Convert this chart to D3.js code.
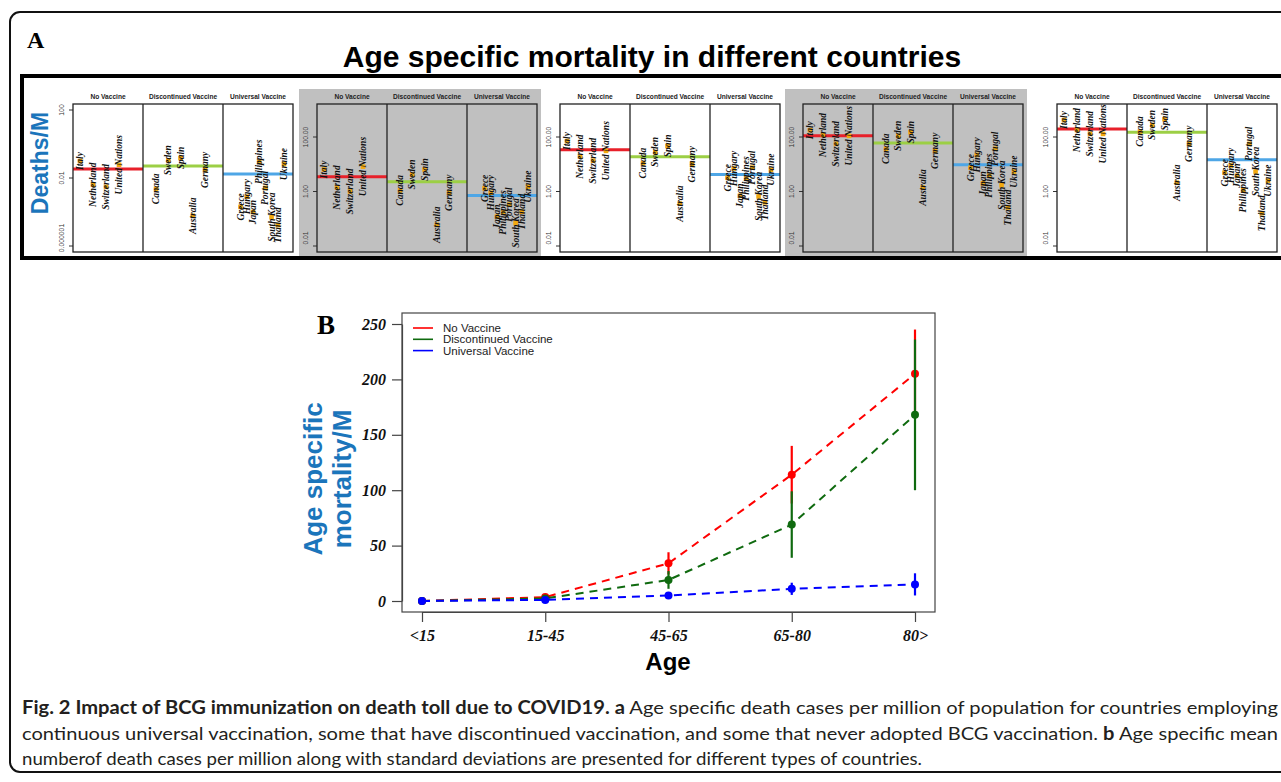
<!DOCTYPE html>
<html>
<head>
<meta charset="utf-8">
<script src="https://cdn.jsdelivr.net/npm/d3@7"></script>
<style>
  body { margin: 0; background: #fff; }
  svg { display: block; }
</style>
</head>
<body>
<div id="chart"></div>
<script>
// ---- data ----
const ageGroups = ["<15", "15-45", "45-65", "65-80", "80>"];
const vaccineGroups = ["No Vaccine", "Discontinued Vaccine", "Universal Vaccine"];

const noVaccineCountries = ["Italy", "Netherland", "Switzerland", "United Nations"];
const discontinuedCountries = ["Canada", "Sweden", "Spain", "Australia", "Germany"];
const universalCountries = ["Greece", "Hungary", "Japan", "Philippines", "Portugal", "South Korea", "Thailand", "Ukraine"];

// deaths per million, one row per country, one value per age group
const noVaccineDeaths = [
  [0.1, 6.4, 71, 178, 420],
  [0.004, 1.4, 19, 118, 180],
  [0.003, 1.0, 13.5, 56, 130],
  [0.06, 8.2, 31, 110, 130]
];
const discontinuedDeaths = [
  [0.0023, 1.1, 11, 37, 160],
  [0.11, 4.2, 28, 110, 275],
  [0.15, 6.4, 47, 150, 450],
  [0.00006, 0.06, 0.36, 1.4, 2.1],
  [0.03, 0.9, 10, 31, 56]
];
const universalDeaths = [
  [0.0002, 1.3, 3.2, 7.5, 4.9],
  [0.0008, 0.9, 7, 22, 9],
  [0.0001, 0.12, 0.7, 2, 3.8],
  [0.09, 0.17, 3, 3.8, 1.1],
  [0.0026, 0.33, 7.5, 37, 56],
  [0.00005, 0.07, 0.66, 1.7, 5.4],
  [0.000017, 0.18, 0.4, 0.26, 0.16],
  [0.066, 1.5, 6.3, 5.4, 2.5]
];

// group means drawn as horizontal lines in panel A
const noVaccineMeanA = [0.034, 3.5, 34, 112, 195];
const discontinuedMeanA = [0.05, 2.3, 19, 60, 150];
const universalMeanA = [0.017, 0.71, 4.2, 9.6, 14.5];

const ticksFirst = [100, 0.01, 0.000001];
const tickLabelsFirst = ["100", "0.01", "0.000001"];
const ticksOther = [100, 1, 0.01];
const tickLabelsOther = ["100.00", "1.00", "0.01"];

// panel B: mean and standard deviation per age group
const noVaccineMean = [0, 3.5, 34, 114, 205];
const noVaccineSd = [0, 1, 10, 26, 40];
const discontinuedMean = [0, 2.3, 19, 69, 168];
const discontinuedSd = [0, 1, 8, 30, 68];
const universalMean = [0, 1, 5, 11, 15];
const universalSd = [0, 0.5, 1, 5.5, 10];
const yTicksB = [0, 50, 100, 150, 200, 250];

// ---- layout ----
const W = 1281, H = 782;
const serif = "'Liberation Serif', 'Times New Roman', serif";
const sans = "'Liberation Sans', Arial, sans-serif";
const axisBlue = "#1b75bb";

const svg = d3.select("#chart").append("svg")
  .attr("width", W).attr("height", H);

svg.append("rect").attr("width", W).attr("height", H).attr("fill", "#fff");

// outer rounded frame
svg.append("rect")
  .attr("x", 10).attr("y", 12).attr("width", 1300).attr("height", 760)
  .attr("rx", 10).attr("fill", "none").attr("stroke", "#111").attr("stroke-width", 2);

svg.append("text").attr("x", 27).attr("y", 48)
  .attr("font-family", serif).attr("font-weight", "bold").attr("font-size", 24)
  .text("A");

svg.append("text").attr("x", 652).attr("y", 67).attr("text-anchor", "middle")
  .attr("font-family", sans).attr("font-weight", "bold").attr("font-size", 30)
  .text("Age specific mortality in different countries");

// ---- panel A ----
const panelLefts = [73, 317, 560, 803, 1057];
const plotW = 220, plotTop = 104, plotBottom = 252;
const groupWidths = [70, 80, 70];
const groupPad = [[7, 46], [13, 62], [17.5, 61]];
const meanColors = ["#e8202a", "#9ccf45", "#4ea6e6"];

const groups = [
  { countries: noVaccineCountries, deaths: noVaccineDeaths, mean: noVaccineMeanA },
  { countries: discontinuedCountries, deaths: discontinuedDeaths, mean: discontinuedMeanA },
  { countries: universalCountries, deaths: universalDeaths, mean: universalMeanA }
];

const panelA = svg.append("g");
panelA.append("rect")
  .attr("x", 22).attr("y", 76).attr("width", 1300).attr("height", 182)
  .attr("fill", "#fff").attr("stroke", "#000").attr("stroke-width", 4);

function drawAgePanel(i) {
  const left = panelLefts[i];
  const g = panelA.append("g");
  const first = i === 0;
  const ticks = first ? ticksFirst : ticksOther;
  const tickLabels = first ? tickLabelsFirst : tickLabelsOther;
  const y = d3.scaleLog()
    .domain(d3.extent(ticks))
    .range([246, first ? 110 : 137]);

  if (i % 2 === 1) {
    g.append("rect").attr("x", left - 18).attr("y", 89)
      .attr("width", 242).attr("height", 167).attr("fill", "#c0c0c0");
  }

  // y ticks (labels kept inside the plot's vertical extent)
  ticks.forEach((t, k) => {
    g.append("line").attr("x1", left - 4).attr("x2", left)
      .attr("y1", y(t)).attr("y2", y(t)).attr("stroke", "#333");
    const ly = Math.min(y(t), plotBottom - 14);
    g.append("text")
      .attr("transform", `translate(${left - 9},${ly}) rotate(-90)`)
      .attr("text-anchor", "middle")
      .attr("font-family", sans).attr("font-size", 6.8).attr("fill", "#333")
      .text(tickLabels[k]);
  });

  let gx = left;
  groups.forEach((grp, k) => {
    const x0 = gx, w = groupWidths[k];
    g.append("text").attr("x", x0 + w / 2).attr("y", 99)
      .attr("text-anchor", "middle")
      .attr("font-family", sans).attr("font-weight", "bold").attr("font-size", 6.6)
      .attr("fill", "#222")
      .text(vaccineGroups[k]);

    g.append("line").attr("x1", x0).attr("x2", x0 + w)
      .attr("y1", y(grp.mean[i])).attr("y2", y(grp.mean[i]))
      .attr("stroke", meanColors[k]).attr("stroke-width", 3);

    const x = d3.scalePoint().domain(grp.countries)
      .range([x0 + groupPad[k][0], x0 + groupPad[k][1]]);

    grp.countries.forEach((c, j) => {
      const cx = x(c), cy = y(grp.deaths[j][i]);
      g.append("rect").attr("x", cx - 2.3).attr("y", cy - 2.3)
        .attr("width", 4.6).attr("height", 4.6).attr("fill", "#f2a90f");
      g.append("text")
        .attr("transform", `translate(${cx},${cy}) rotate(-90)`)
        .attr("text-anchor", "middle").attr("dominant-baseline", "central")
        .attr("font-family", serif).attr("font-style", "italic")
        .attr("font-weight", "bold").attr("font-size", 9.5).attr("fill", "#111")
        .text(c);
    });
    gx += w;
  });

  // group dividers and frame
  let dx = left;
  groupWidths.slice(0, -1).forEach(w => {
    dx += w;
    g.append("line").attr("x1", dx).attr("x2", dx)
      .attr("y1", plotTop).attr("y2", plotBottom).attr("stroke", "#222").attr("stroke-width", 1.3);
  });
  g.append("rect").attr("x", left).attr("y", plotTop)
    .attr("width", plotW).attr("height", plotBottom - plotTop)
    .attr("fill", "none").attr("stroke", "#222").attr("stroke-width", 1.3);
}

ageGroups.forEach((a, i) => drawAgePanel(i));

panelA.append("text")
  .attr("transform", "translate(48,163) rotate(-90)")
  .attr("text-anchor", "middle")
  .attr("font-family", sans).attr("font-weight", "bold").attr("font-size", 23)
  .attr("fill", axisBlue)
  .text("Deaths/M");

// ---- panel B ----
const box = { left: 402, right: 935, top: 313, bottom: 612 };
const x = d3.scalePoint().domain(ageGroups).range([422, 915]);
const y = d3.scaleLinear().domain([0, 250]).range([601, 324]);

const panelB = svg.append("g");

panelB.append("text").attr("x", 317).attr("y", 334)
  .attr("font-family", serif).attr("font-weight", "bold").attr("font-size", 27)
  .text("B");

panelB.append("rect")
  .attr("x", box.left).attr("y", box.top)
  .attr("width", box.right - box.left).attr("height", box.bottom - box.top)
  .attr("fill", "none").attr("stroke", "#444").attr("stroke-width", 1.2);

const yAxis = panelB.append("g")
  .attr("transform", `translate(${box.left},0)`)
  .call(d3.axisLeft(y).tickValues(yTicksB).tickSize(10).tickPadding(6).tickSizeOuter(0));
const xAxis = panelB.append("g")
  .attr("transform", `translate(0,${box.bottom})`)
  .call(d3.axisBottom(x).tickSize(10).tickPadding(8).tickSizeOuter(0));

[yAxis, xAxis].forEach(ax => {
  ax.select(".domain").attr("stroke", "#444").attr("stroke-width", 1.2);
  ax.selectAll(".tick line").attr("stroke", "#444").attr("stroke-width", 1.2);
  ax.selectAll(".tick text")
    .attr("font-family", serif).attr("font-style", "italic")
    .attr("font-weight", "bold").attr("font-size", 16).attr("fill", "#111");
});

panelB.append("text")
  .attr("x", 668).attr("y", 670).attr("text-anchor", "middle")
  .attr("font-family", sans).attr("font-weight", "bold").attr("font-size", 24)
  .text("Age");

const yTitle = panelB.append("text")
  .attr("transform", "translate(0,479) rotate(-90)")
  .attr("text-anchor", "middle")
  .attr("font-family", sans).attr("font-weight", "bold").attr("font-size", 26)
  .attr("fill", axisBlue);
yTitle.append("tspan").attr("x", 0).attr("y", 322).text("Age specific");
yTitle.append("tspan").attr("x", 0).attr("y", 351).text("mortality/M");

const series = [
  { name: "No Vaccine", color: "#ff0000", mean: noVaccineMean, sd: noVaccineSd },
  { name: "Discontinued Vaccine", color: "#0f6a0f", mean: discontinuedMean, sd: discontinuedSd },
  { name: "Universal Vaccine", color: "#0000ff", mean: universalMean, sd: universalSd }
];

const line = d3.line().x(d => x(d.age)).y(d => y(d.v));

series.forEach(s => {
  const pts = ageGroups.map((a, i) => ({ age: a, v: s.mean[i], sd: s.sd[i] }));
  panelB.append("path").datum(pts)
    .attr("d", line).attr("fill", "none")
    .attr("stroke", s.color).attr("stroke-width", 2)
    .attr("stroke-dasharray", "8,6");
  panelB.selectAll(null).data(pts).join("line")
    .attr("x1", d => x(d.age)).attr("x2", d => x(d.age))
    .attr("y1", d => y(d.v - d.sd)).attr("y2", d => y(d.v + d.sd))
    .attr("stroke", s.color).attr("stroke-width", 2.2);
  panelB.selectAll(null).data(pts).join("circle")
    .attr("cx", d => x(d.age)).attr("cy", d => y(d.v)).attr("r", 4)
    .attr("fill", s.color);
});

// legend
const legend = panelB.append("g").attr("transform", "translate(413,328)");
series.forEach((s, i) => {
  legend.append("line").attr("x1", 0).attr("x2", 20)
    .attr("y1", i * 11.3).attr("y2", i * 11.3)
    .attr("stroke", s.color).attr("stroke-width", 1.6);
  legend.append("text").attr("x", 30).attr("y", i * 11.3)
    .attr("dominant-baseline", "central")
    .attr("font-family", sans).attr("font-size", 11.5).attr("fill", "#222")
    .text(s.name);
});

// ---- caption ----
const capFont = "Lato, 'Open Sans', sans-serif";
const caption = svg.append("g")
  .attr("font-family", capFont).attr("font-size", 18).attr("fill", "#231f20");

const c1 = caption.append("text").attr("x", 22).attr("y", 714)
  .attr("textLength", 1256).attr("lengthAdjust", "spacingAndGlyphs");
c1.append("tspan").attr("font-weight", "bold")
  .text("Fig. 2 Impact of BCG immunization on death toll due to COVID19. a");
c1.append("tspan")
  .text(" Age specific death cases per million of population for countries employing");

const c2 = caption.append("text").attr("x", 22).attr("y", 740)
  .attr("textLength", 1256).attr("lengthAdjust", "spacingAndGlyphs");
c2.append("tspan")
  .text("continuous universal vaccination, some that have discontinued vaccination, and some that never adopted BCG vaccination. ");
c2.append("tspan").attr("font-weight", "bold").text("b");
c2.append("tspan").text(" Age specific mean");

caption.append("text").attr("x", 22).attr("y", 765)
  .attr("textLength", 900).attr("lengthAdjust", "spacingAndGlyphs")
  .text("numberof death cases per million along with standard deviations are presented for different types of countries.");
</script>
</body>
</html>
